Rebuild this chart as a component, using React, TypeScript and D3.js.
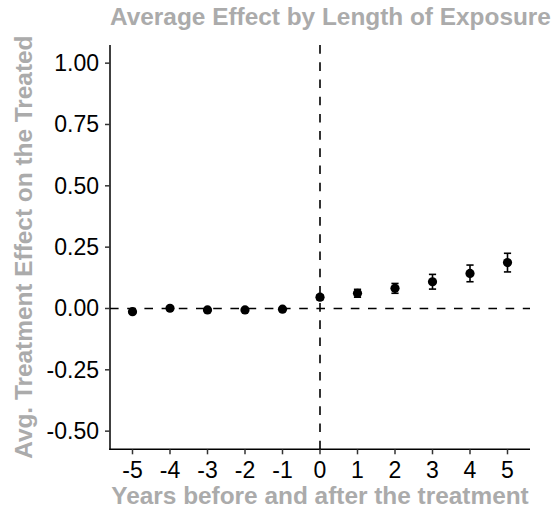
import React from "react";
import * as d3 from "d3";

// Event-study estimates by years relative to treatment
const periods: number[] = [-5, -4, -3, -2, -1, 0, 1, 2, 3, 4, 5];
const estimates: number[] = [-0.013, 0.001, -0.006, -0.006, -0.003, 0.046, 0.062, 0.082, 0.109, 0.143, 0.187];
const ciHalfWidths: number[] = [0.006, 0.005, 0.005, 0.005, 0.005, 0.01, 0.016, 0.02, 0.03, 0.034, 0.038];

const xTickValues: number[] = [-5, -4, -3, -2, -1, 0, 1, 2, 3, 4, 5];
const yTickValues: number[] = [-0.5, -0.25, 0, 0.25, 0.5, 0.75, 1.0];

const chartTitle = "Average Effect by Length of Exposure";
const xTitle = "Years before and after the treatment";
const yTitle = "Avg. Treatment Effect on the Treated";

const W = 553;
const H = 510;
const panel = { left: 110, right: 530, top: 45, bottom: 449.3 };
const titleGray = "#ababab";
const font = "'Liberation Sans', Arial, Helvetica, sans-serif";

export default function App() {
  const x = d3.scaleLinear().domain([-5.6, 5.6]).range([panel.left, panel.right]);
  const y = d3.scaleLinear().domain([-0.574, 1.074]).range([panel.bottom, panel.top]);
  const fmtY = d3.format(".2f");
  // plain hyphen for negatives, no signed zero
  const fmtYTick = (v: number) => fmtY(v).replace("\u2212", "-").replace(/^-0\.00$/, "0.00");

  const rows = periods.map((p, i) => ({
    p,
    est: estimates[i],
    lo: estimates[i] - ciHalfWidths[i],
    hi: estimates[i] + ciHalfWidths[i],
  }));

  const capHalf = 3.6;
  const dash = "8.6 8.6";
  const tickFont = 23;

  return (
    <svg
      width={W}
      height={H}
      style={{ position: "absolute", left: 0, top: 0, background: "#fff" }}
      fontFamily={font}
    >
      <rect x={0} y={0} width={W} height={H} fill="#fff" />

      {/* reference lines at zero effect and at treatment onset */}
      <line
        x1={panel.left}
        x2={panel.right}
        y1={y(0)}
        y2={y(0)}
        stroke="#000"
        strokeWidth={1.6}
        strokeDasharray={dash}
      />
      <line
        x1={x(0)}
        x2={x(0)}
        y1={panel.bottom}
        y2={panel.top}
        stroke="#000"
        strokeWidth={1.6}
        strokeDasharray={dash}
      />

      {/* confidence intervals */}
      {rows.map((r) => (
        <g key={`ci${r.p}`} stroke="#000" strokeWidth={1.6}>
          <line x1={x(r.p)} x2={x(r.p)} y1={y(r.lo)} y2={y(r.hi)} />
          <line x1={x(r.p) - capHalf} x2={x(r.p) + capHalf} y1={y(r.lo)} y2={y(r.lo)} />
          <line x1={x(r.p) - capHalf} x2={x(r.p) + capHalf} y1={y(r.hi)} y2={y(r.hi)} />
        </g>
      ))}

      {/* point estimates */}
      {rows.map((r) => (
        <circle key={`pt${r.p}`} cx={x(r.p)} cy={y(r.est)} r={4.6} fill="#000" />
      ))}

      {/* y axis */}
      <line x1={panel.left} x2={panel.left} y1={panel.top} y2={panel.bottom + 0.7} stroke="#000" strokeWidth={1.5} />
      {yTickValues.map((v) => (
        <g key={`yt${v}`}>
          <line x1={panel.left - 5} x2={panel.left} y1={y(v)} y2={y(v)} stroke="#333" strokeWidth={1.5} />
          <text
            x={panel.left - 11}
            y={y(v)}
            textAnchor="end"
            dominantBaseline="central"
            fontSize={tickFont}
            fill="#000"
          >
            {fmtYTick(v)}
          </text>
        </g>
      ))}

      {/* x axis */}
      <line x1={panel.left - 0.7} x2={panel.right} y1={panel.bottom} y2={panel.bottom} stroke="#000" strokeWidth={1.5} />
      {xTickValues.map((v) => (
        <g key={`xt${v}`}>
          <line x1={x(v)} x2={x(v)} y1={panel.bottom} y2={panel.bottom + 5} stroke="#333" strokeWidth={1.5} />
          <text x={x(v)} y={panel.bottom + 28.5} textAnchor="middle" fontSize={tickFont} fill="#000">
            {String(v)}
          </text>
        </g>
      ))}

      {/* titles */}
      <text x={panel.left} y={25} fontSize={24.4} fontWeight="bold" fill={titleGray}>
        {chartTitle}
      </text>
      <text
        x={(panel.left + panel.right) / 2}
        y={504}
        textAnchor="middle"
        fontSize={24.4}
        fontWeight="bold"
        fill={titleGray}
      >
        {xTitle}
      </text>
      <text
        transform={`translate(31.5, ${(panel.top + panel.bottom) / 2}) rotate(-90)`}
        textAnchor="middle"
        fontSize={24.4}
        fontWeight="bold"
        fill={titleGray}
      >
        {yTitle}
      </text>
    </svg>
  );
}
